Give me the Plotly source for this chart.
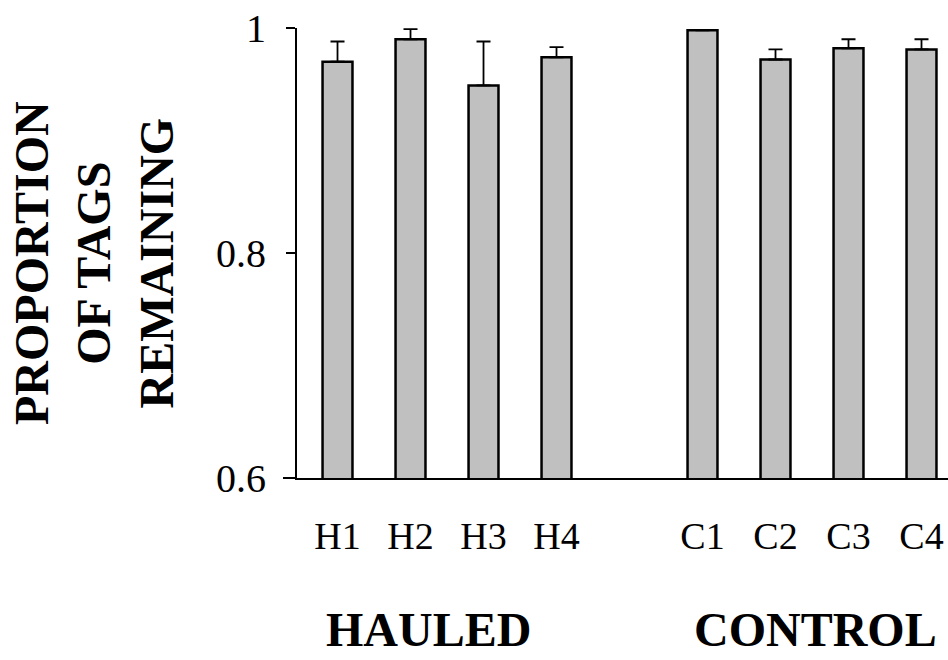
import plotly.graph_objects as go

categories = ["H1", "H2", "H3", "H4", "C1", "C2", "C3", "C4"]
positions = [0, 1, 2, 3, 5, 6, 7, 8]
values = [0.970, 0.990, 0.949, 0.974, 0.998, 0.972, 0.982, 0.981]
errors = [0.018, 0.009, 0.039, 0.009, 0.0, 0.009, 0.008, 0.009]
y_ticks = [0.6, 0.8, 1.0]
y_tick_labels = ["0.6", "0.8", "1"]
groups = ["HAULED", "CONTROL"]
group_x = [1.25, 6.55]

serif = "Liberation Serif, Times New Roman, serif"

W, H = 948, 660
L, T, B = 297, 28, 182
PW, PH = W - L, H - T - B


def px(fx):
    return (fx - L) / PW


def py(fy):
    return (H - B - fy) / PH


fig = go.Figure()
fig.add_trace(go.Bar(
    x=positions, y=values, width=0.41,
    marker=dict(color="#c0c0c0", line=dict(color="black", width=2.5)),
    error_y=dict(type="data", array=errors, symmetric=False, arrayminus=[0] * len(errors),
                 color="black", thickness=1.8, width=7),
))

fig.update_layout(
    width=W, height=H,
    margin=dict(l=L, r=0, t=T, b=B, pad=0),
    paper_bgcolor="white", plot_bgcolor="white",
    showlegend=False,
    font=dict(family=serif, color="black"),
)
fig.update_xaxes(
    range=[-0.555, 8.363], tickvals=positions, ticktext=categories,
    showline=True, linecolor="black", linewidth=2, ticks="", showgrid=False,
    zeroline=False, tickfont=dict(size=38, family=serif), ticklabelstandoff=23,
    ticklabeloverflow="allow",
)
fig.update_yaxes(
    range=[0.6, 1.0], tickvals=y_ticks, ticktext=y_tick_labels,
    showline=True, linecolor="black", linewidth=2, ticks="outside", ticklen=9,
    tickwidth=1.5, tickcolor="black", showgrid=False, zeroline=False,
    tickfont=dict(size=40, family=serif), ticklabelstandoff=12,
    ticklabeloverflow="allow",
)

# short extension of the baseline to the left of the y axis
fig.add_shape(type="line", xref="paper", yref="paper", x0=px(283), x1=0, y0=0, y1=0,
              line=dict(color="black", width=2))

for g, gx in zip(groups, group_x):
    fig.add_annotation(x=gx, xref="x", y=py(629), yref="paper", text="<b>" + g + "</b>",
                       showarrow=False, font=dict(size=48, family=serif, color="black"),
                       xanchor="center", yanchor="middle")

fig.add_annotation(x=px(94), xref="paper", y=py(263), yref="paper",
                   text="<b>PROPORTION<br>OF TAGS<br>REMAINING</b>",
                   textangle=-90, showarrow=False,
                   font=dict(size=48, family=serif, color="black"),
                   xanchor="center", yanchor="middle")

fig.write_html("out.html", config={"displayModeBar": False},
               post_script="document.body.style.margin='0';")
